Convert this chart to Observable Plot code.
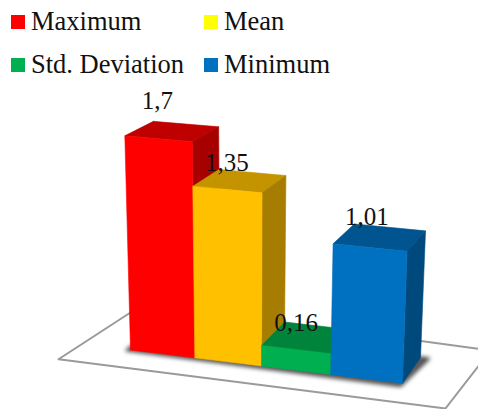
<!DOCTYPE html>
<html>
<head>
<meta charset="utf-8">
<script src="https://cdn.jsdelivr.net/npm/d3@7"></script>
<script src="https://cdn.jsdelivr.net/npm/@observablehq/plot@0.6"></script>
<style>
  html, body { margin: 0; padding: 0; background: #fff; overflow: hidden; }
  #legend {
    height: 84px; box-sizing: border-box; padding: 0 0 0 11px;
    display: grid; grid-template-columns: 193px auto; grid-auto-rows: 43px;
    font: 26.5px "Liberation Serif", serif; color: #111;
  }
  #legend div { display: flex; align-items: center; height: 43px; white-space: nowrap; }
  #legend i { display: inline-block; width: 14px; height: 14px; margin-right: 6px; }
  svg { display: block; }
</style>
</head>
<body>
<div id="legend"></div>
<div id="chart"></div>
<script>
// Summary statistics shown as four adjacent 3D columns
const categories = ["Maximum", "Mean", "Std. Deviation", "Minimum"];
const values = [1.7, 1.35, 0.16, 1.01];
const legendColors = ["#ff0000", "#ffff00", "#00b050", "#0070c0"];
const frontColors = ["#ff0000", "#ffc000", "#00b050", "#0070c0"];
const topColors = ["#bf0000", "#c49400", "#00843c", "#005490"];
const sideColors = ["#a60000", "#a67d00", "#007234", "#00497d"];
const labelShift = [[-15, -22], [-13, -10], [-11, -6], [-13, -12]];

const legendTop = 84;
const plotHeight = 325;

// Perspective camera: u runs along the columns, v into the depth, h upward in data units
function project(u, v, h) {
  const s = u / 4;
  const w = 1 - 0.071 * s + 0.04 * v;
  const bx = (130 + 243.5 * s + 33.5 * v) / w;
  const by = (349.5 + 6.03 * s - 9.6 * v) / w;
  return {
    x: bx + (bx - 247) * 0.0285 * h,
    y: by - h * 126 / (1 - 0.035 * s + 0.04 * v)
  };
}

const face = (...corners) => {
  const pts = corners.map(c => project(...c));
  return [...pts, pts[0]];
};

const polygon = (pts, color) =>
  Plot.line(pts, {x: "x", y: "y", fill: color, stroke: color, strokeWidth: 0.6, curve: "linear"});

// Floor outline and the soft shadow under the columns
const floor = face([-0.83, -0.66, 0], [4.73, -0.66, 0], [4.86, 1.57, 0], [-0.63, 1.94, 0]);
const shadow = face([-0.05, -0.03, 0], [4.0, -0.1, 0], [4.12, 1.0, 0], [0, 1, 0]);

const columnMarks = values.flatMap((h, i) => [
  polygon(face([i, 1, h], [i + 1, 1, h], [i + 1, 0, h], [i, 0, h]), topColors[i]),
  polygon(face([i + 1, 0, 0], [i + 1, 1, 0], [i + 1, 1, h], [i + 1, 0, h]), sideColors[i]),
  polygon(face([i, 0, 0], [i + 1, 0, 0], [i + 1, 0, h], [i, 0, h]), frontColors[i])
]);

const labels = values.map((h, i) => {
  const p = project(i + 0.5, 0.5, h);
  return {x: p.x + labelShift[i][0], y: p.y + labelShift[i][1], text: String(h).replace(".", ",")};
});

const chart = Plot.plot({
  width: 478,
  height: plotHeight,
  margin: 0,
  x: {domain: [0, 478], range: [0, 478], axis: null},
  y: {domain: [legendTop, legendTop + plotHeight], range: [0, plotHeight], axis: null},
  style: {background: "#fff", overflow: "hidden"},
  marks: [
    Plot.line(floor, {x: "x", y: "y", stroke: "#9a9a9a", strokeWidth: 2, curve: "linear", strokeLinejoin: "miter"}),
    Plot.line(shadow, {x: "x", y: "y", fill: "#333", stroke: "#333", strokeWidth: 2, fillOpacity: 0.8, imageFilter: "blur(2px)"}),
    ...columnMarks,
    Plot.text(labels, {
      x: "x", y: "y", text: "text", textAnchor: "middle", lineAnchor: "bottom",
      fontFamily: "Liberation Serif", fontSize: 25, fill: "#111"
    })
  ]
});
document.getElementById("chart").append(chart);

const legend = document.getElementById("legend");
categories.forEach((name, i) => {
  const item = document.createElement("div");
  const swatch = document.createElement("i");
  swatch.style.background = legendColors[i];
  item.append(swatch, name);
  legend.append(item);
});
</script>
</body>
</html>
